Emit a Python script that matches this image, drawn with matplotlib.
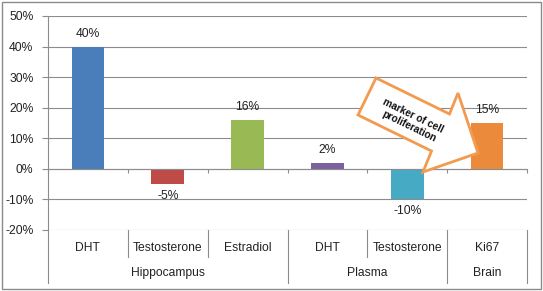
import matplotlib
matplotlib.use("Agg")
import matplotlib.pyplot as plt
from matplotlib.patches import Polygon, Rectangle
import numpy as np

# ---- data ----
categories = ["DHT", "Testosterone", "Estradiol", "DHT", "Testosterone", "Ki67"]
groups = ["Hippocampus", "Hippocampus", "Hippocampus", "Plasma", "Plasma", "Brain"]
values = [40, -5, 16, 2, -10, 15]
value_labels = ["40%", "-5%", "16%", "2%", "-10%", "15%"]
colors = ["#4A7EBB", "#BE4B48", "#98B954", "#7D60A0", "#46AAC5", "#EC8A3C"]
yticks = [-20, -10, 0, 10, 20, 30, 40, 50]
annotation_text = "marker of cell\nproliferation"

plt.rcParams['font.family'] = ['Liberation Sans', 'DejaVu Sans']
FS = 8.7

W, H = 543, 291
fig = plt.figure(figsize=(W / 100, H / 100), dpi=100)

# plot area in pixels
x0, x1 = 48, 527
ytop, ybot = 16, 230
ax = fig.add_axes([x0 / W, 1 - ybot / H, (x1 - x0) / W, (ybot - ytop) / H])

x = np.arange(len(categories))
ax.bar(x, values, width=0.41, color=colors, zorder=3)

ax.set_xlim(-0.5, len(categories) - 0.5)
ax.set_ylim(-20, 50)
ax.set_yticks(yticks)
ax.set_yticklabels([f"{t}%" for t in yticks])
grid_c = "#8c8c8c"
ax.yaxis.grid(True, color=grid_c, lw=0.8, zorder=0)
ax.tick_params(axis='y', direction='out', length=4.5, width=0.8, color=grid_c,
               labelsize=FS, labelcolor="#222222", pad=6)

for s in ['top', 'right']:
    ax.spines[s].set_visible(False)
ax.spines['left'].set_color(grid_c)
ax.spines['left'].set_linewidth(0.8)
ax.spines['bottom'].set_position(('data', 0))
ax.spines['bottom'].set_color(grid_c)
ax.spines['bottom'].set_linewidth(0.8)
ax.spines['bottom'].set_zorder(4)
ax.set_xticks(np.arange(-0.5, len(categories), 1.0))
ax.set_xticklabels([])
ax.tick_params(axis='x', direction='out', length=3, width=0.8, color=grid_c)

# data labels
for xi, v, lab in zip(x, values, value_labels):
    if v >= 0:
        ax.annotate(lab, (xi, v), xytext=(0, 5), textcoords='offset points',
                    ha='center', va='bottom', fontsize=FS, color="#222222")
    else:
        ax.annotate(lab, (xi, v), xytext=(0, -4), textcoords='offset points',
                    ha='center', va='top', fontsize=FS, color="#222222")

# multi-level category axis
trans = ax.get_xaxis_transform()
ph = ybot - ytop
lvl1_y = -(248 - ybot) / ph
lvl2_y = -(273 - ybot) / ph
short_y = -(257 - ybot) / ph
long_y = -(283 - ybot) / ph

for xi, c in zip(x, categories):
    ax.text(xi, lvl1_y, c, transform=trans, ha='center', va='center',
            fontsize=FS, color="#222222", clip_on=False)

# group spans
spans = []
start = 0
for i in range(1, len(groups) + 1):
    if i == len(groups) or groups[i] != groups[start]:
        spans.append((groups[start], start, i - 1))
        start = i
group_bounds = set()
for g, a, b in spans:
    ax.text((a + b) / 2, lvl2_y, g, transform=trans, ha='center', va='center',
            fontsize=FS, color="#222222", clip_on=False)
    group_bounds.add(a - 0.5)
    group_bounds.add(b + 0.5)

for bnd in np.arange(-0.5, len(categories), 1.0):
    yend = long_y if bnd in group_bounds else short_y
    ax.plot([bnd, bnd], [0, yend], transform=trans, color=grid_c, lw=0.8,
            clip_on=False)

# arrow annotation (figure pixel coordinates)
arrow_px = [(376, 78), (449.5, 114), (458, 93), (478, 153), (423, 172),
            (431.5, 151), (358, 115)]
arrow = Polygon([(px / W, 1 - py / H) for px, py in arrow_px], closed=True,
                transform=fig.transFigure, facecolor='white', edgecolor='#F39A4E',
                lw=2.0, zorder=10, joinstyle='miter')
fig.patches.append(arrow)
fig.text(411 / W, 1 - 121 / H, annotation_text, rotation=-26, ha='center',
         va='center', rotation_mode='anchor', fontsize=7.3, fontweight='bold',
         color='#111111', linespacing=1.15, zorder=11)

# outer chart border
fig.patches.append(Rectangle((2 / W, 2 / H), (W - 4) / W, (H - 4) / H,
                             transform=fig.transFigure, fill=False,
                             edgecolor='#8a8a8a', lw=1.0))

fig.savefig("out.png", dpi=100)
